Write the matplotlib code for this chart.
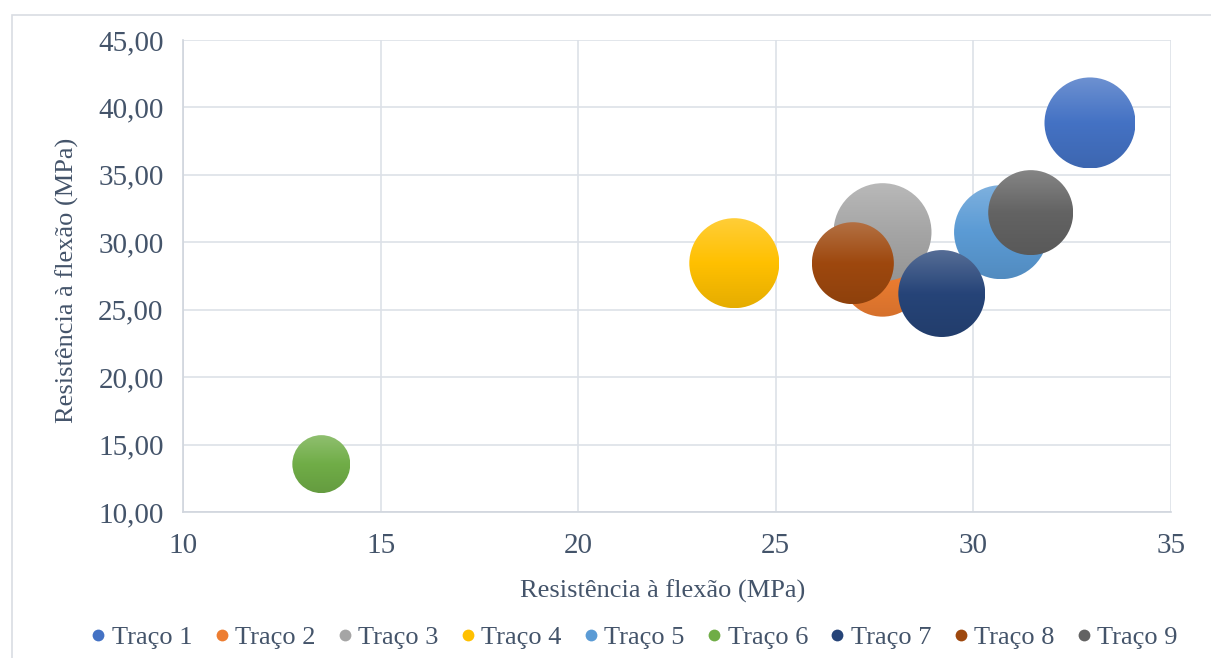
import numpy as np
import matplotlib
matplotlib.use("Agg")
import matplotlib.pyplot as plt
import matplotlib.transforms as mtransforms
from matplotlib.patches import Circle, Rectangle
from matplotlib.lines import Line2D
from matplotlib.colors import to_rgb

# dados dos traços
series = ["Traço 1", "Traço 2", "Traço 3", "Traço 4", "Traço 5",
          "Traço 6", "Traço 7", "Traço 8", "Traço 9"]
x_vals = [32.95, 27.70, 27.70, 23.95, 30.70, 13.50, 29.20, 26.95, 31.45]
y_vals = [38.85, 27.60, 30.75, 28.45, 30.75, 13.55, 26.20, 28.45, 32.20]
sizes = [41.4, 35.3, 48.0, 40.5, 44.2, 16.8, 37.8, 33.6, 36.1]
colors = ["#4472C4", "#ED7D31", "#A5A5A5", "#FFC000", "#5B9BD5",
          "#70AD47", "#264478", "#9E480E", "#636363"]

x_ticks = [10, 15, 20, 25, 30, 35]
y_ticks = [10, 15, 20, 25, 30, 35, 40, 45]

text_color = "#44546A"
grid_color = "#DDE1E8"

plt.rcParams["font.family"] = ["Liberation Serif", "DejaVu Serif"]

fig = plt.figure(figsize=(12.11, 6.58), dpi=100)
ax = fig.add_axes([183 / 1211, 1 - 512 / 658, 988 / 1211, 472 / 658])

# moldura do gráfico
fig.patches.append(Rectangle((12 / 1211, -0.5), 2, 0.5 + 1 - 15 / 658,
                             transform=fig.transFigure, fill=False,
                             edgecolor="#D9DDE3", linewidth=1.2))


def gradient(color):
    base = np.array(to_rgb(color))
    light = base + (1 - base) * 0.22
    dark = base * 0.90
    t = np.linspace(0, 1, 256)[:, None]
    top = light + (base - light) * np.clip(t / 0.5, 0, 1)
    bot = base + (dark - base) * np.clip((t - 0.5) / 0.5, 0, 1)
    rgb = np.where(t < 0.5, top, bot)
    return np.repeat(rgb[:, None, :], 2, axis=1)


# bolhas com preenchimento em degradê
scale = 0.0707  # polegadas por raiz do tamanho
for i in range(len(series)):
    r = scale * np.sqrt(sizes[i])
    trans = fig.dpi_scale_trans + mtransforms.ScaledTranslation(
        x_vals[i], y_vals[i], ax.transData)
    circ = Circle((0, 0), r, transform=trans, facecolor="none",
                  edgecolor="none", zorder=3 + i)
    ax.add_patch(circ)
    im = ax.imshow(gradient(colors[i]), extent=(-r, r, -r, r),
                   transform=trans, origin="upper", aspect="auto",
                   interpolation="bilinear", zorder=3 + i)
    im.set_clip_path(circ)

ax.set_xlim(10, 35)
ax.set_ylim(10, 45)
ax.set_xticks(x_ticks)
ax.set_yticks(y_ticks)
ax.set_xticklabels([str(v) for v in x_ticks])
ax.set_yticklabels([f"{v:.2f}".replace(".", ",") for v in y_ticks])
ax.tick_params(length=0, labelsize=21, labelcolor=text_color)
ax.tick_params(axis="y", pad=14)
ax.tick_params(axis="x", pad=15)
ax.grid(True, color=grid_color, linewidth=1.2, zorder=0)
ax.set_axisbelow(True)
for side in ["top", "right"]:
    ax.spines[side].set_visible(False)
for side in ["left", "bottom"]:
    ax.spines[side].set_color("#D0D5DD")
    ax.spines[side].set_linewidth(1.2)

ax.set_xlabel("Resistência à flexão (MPa)", fontsize=19, color=text_color)
ax.set_ylabel("Resistência à flexão (MPa)", fontsize=19, color=text_color)
ax.xaxis.set_label_coords((663 - 183) / 988, -(580 - 512) / 472)
ax.yaxis.set_label_coords(-(183 - 79) / 988, 0.49)

handles = [Line2D([], [], marker="o", linestyle="none", markersize=8.5,
                  markerfacecolor=c, markeredgecolor="none") for c in colors]
fig.legend(handles, series, loc="center", bbox_to_anchor=(0.522, 1 - 637 / 658),
           ncol=9, frameon=False, fontsize=19, labelcolor=text_color,
           handletextpad=0.05, columnspacing=0.67, handlelength=0.9)

fig.savefig("out.png", dpi=100)
